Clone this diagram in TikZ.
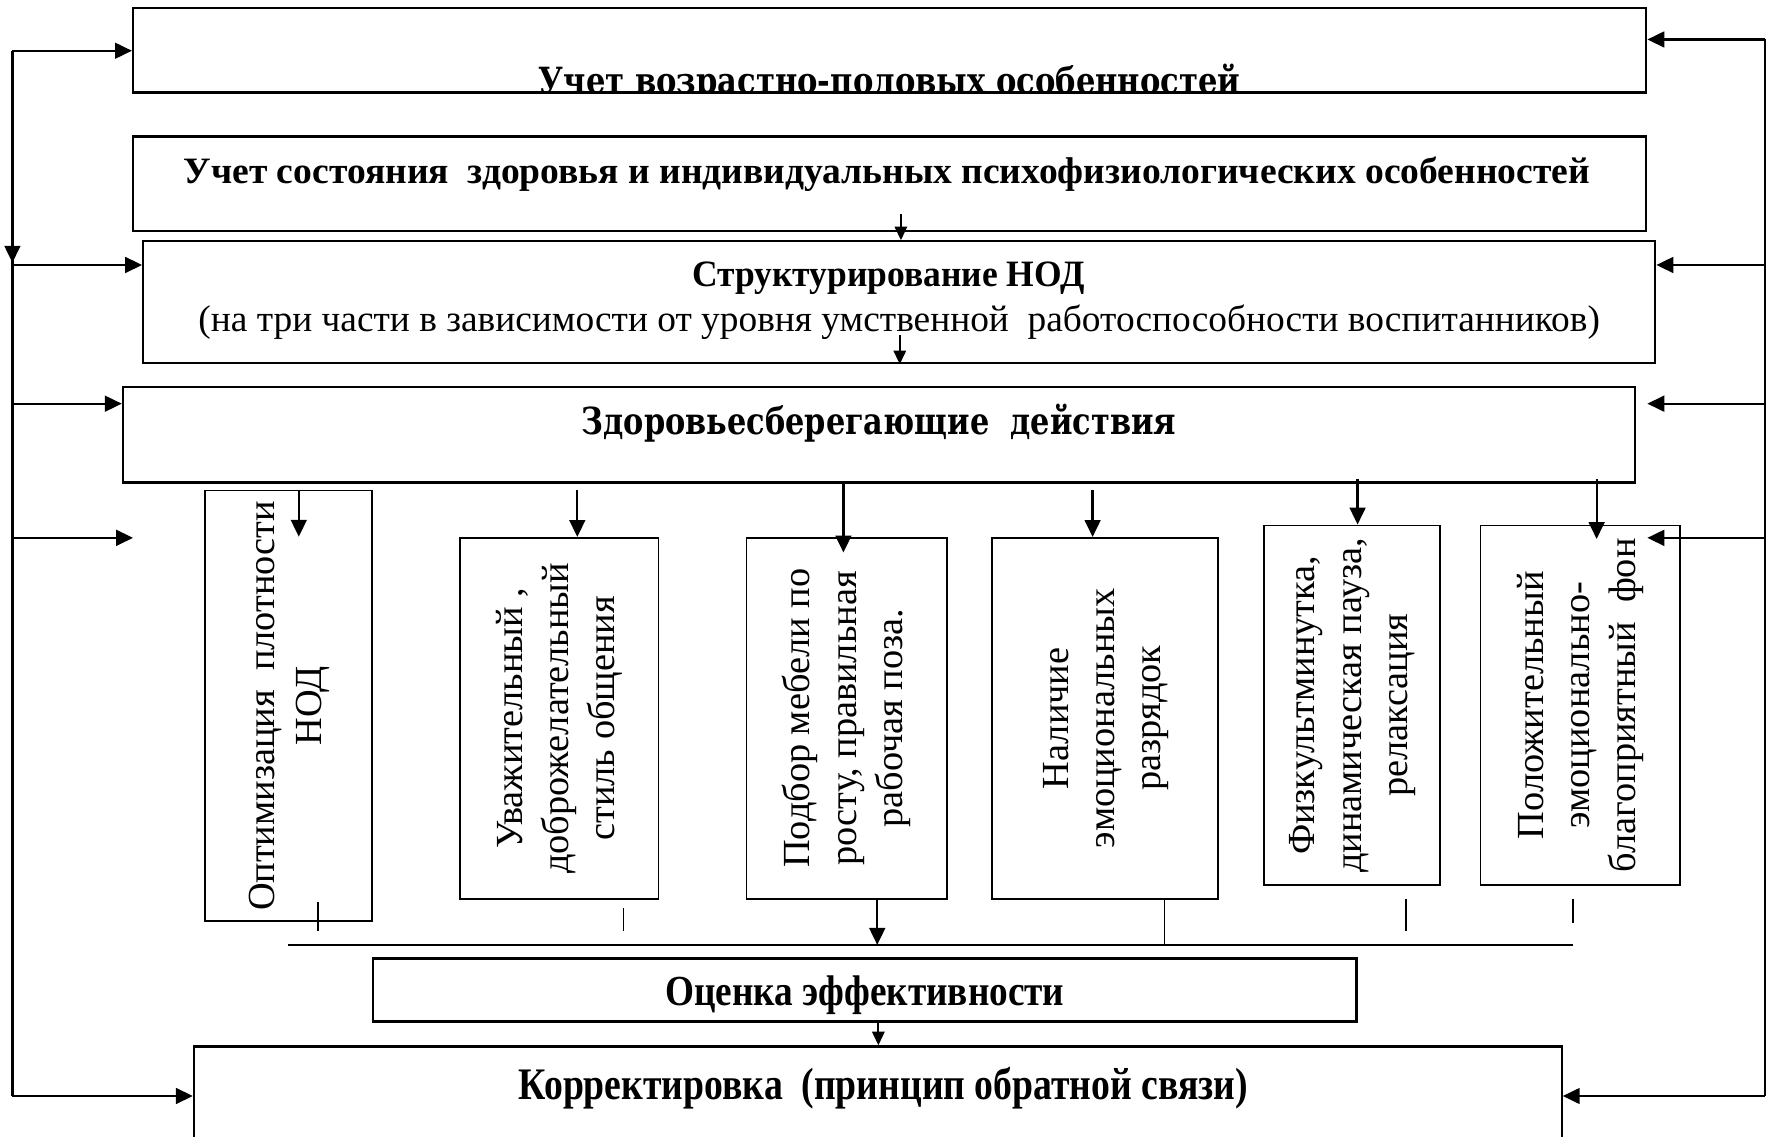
\documentclass[tikz,border=0pt]{standalone}
\usepackage{fontspec}
\setmainfont{Liberation Serif}
\newfontfamily\dvs{DejaVu Serif}
\usetikzlibrary{arrows.meta,calc}
\newcommand{\fitw}[2]{\resizebox{#1}{\height}{#2}}
\begin{document}
\begin{tikzpicture}[x=0.5pt,y=-0.5pt,
 line/.style={line width=1pt},
 arr/.style={line width=1pt,-{Triangle[length=7.5pt,width=7pt]}},
 sarr/.style={line width=0.8pt,-{Triangle[length=6pt,width=5.5pt]}},
 tick/.style={line width=0.6pt},
 bigbox/.style={draw,line width=1pt,inner sep=0pt},
 vbox/.style={draw,line width=0.8pt,inner sep=0pt,font=\fontsize{17}{20.5}\selectfont},
 hb/.style={anchor=base,inner sep=0pt,font=\fontsize{16.5}{20}\selectfont\bfseries},
 hr/.style={anchor=base,inner sep=0pt,font=\fontsize{16.5}{20}\selectfont}
]
\clip (0,0) rectangle (1568,1008);

% main boxes
\node[bigbox,minimum width=671pt,minimum height=37.5pt] (B1) at (789,44.5) {};
\begin{scope}
 \clip (B1.south west) rectangle (B1.north east);
 \node[hb,font=\dvs\bfseries\fontsize{16}{19}\selectfont] (T1) at (789,83) {\fitw{311pt}{Учет возрастно-половых особенностей}};
\end{scope}

\node[bigbox,minimum width=671pt,minimum height=42pt] (B2) at (789,163) {};
\node[hb] (T2) at (786.5,163) {\fitw{623.5pt}{Учет состояния\ \ здоровья и индивидуальных психофизиологических особенностей}};

\node[bigbox,minimum width=670.5pt,minimum height=54pt] (B3) at (797.5,268) {};
\node[hb] (T3a) at (788,254) {\fitw{174pt}{Структурирование НОД}};
\node[hr] (T3b) at (797.5,294) {\fitw{621.5pt}{(на три части в зависимости от уровня умственной\ \ работоспособности воспитанников)}};

\node[bigbox,minimum width=670.5pt,minimum height=42.5pt] (B4) at (779.5,385.5) {};
\node[hb,font=\dvs\bfseries\fontsize{16.5}{19}\selectfont] (T4) at (779.5,385) {\fitw{263.5pt}{Здоровьесберегающие\ \ действия}};

% vertical boxes
\node[vbox,minimum width=74pt,minimum height=191pt] (A) at (256,626) {\rotatebox{90}{\begin{tabular}{@{}c@{}}Оптимизация\ \ плотности\\НОД\end{tabular}}};
\node[vbox,minimum width=88pt,minimum height=160pt] (B) at (496,637) {\rotatebox{90}{\begin{tabular}{@{}c@{}}Уважительный ,\\доброжелательный\\стиль общения\end{tabular}}};
\node[vbox,minimum width=89pt,minimum height=160pt] (C) at (751,637) {\rotatebox{90}{\begin{tabular}{@{}c@{}}Подбор мебели по\\росту, правильная\\рабочая поза.\end{tabular}}};
\node[vbox,minimum width=100pt,minimum height=160pt] (D) at (980,637) {\rotatebox{90}{\begin{tabular}{@{}c@{}}Наличие\\эмоциональных\\разрядок\end{tabular}}};
\node[vbox,minimum width=78pt,minimum height=159.5pt] (E) at (1199,625.5) {\rotatebox{90}{\begin{tabular}{@{}c@{}}Физкультминутка,\\динамическая пауза,\\релаксация\end{tabular}}};
\node[vbox,minimum width=88.5pt,minimum height=159.5pt] (F) at (1401.5,625.5) {\rotatebox{90}{\begin{tabular}{@{}c@{}}Положительный\\эмоционально-\\благоприятный\ \ фон\end{tabular}}};

% bottom boxes
\node[bigbox,minimum width=436pt,minimum height=28pt] (O) at (767,878) {};
\node[hb,font=\bfseries\fontsize{19}{22}\selectfont] (TO) at (767,892) {\fitw{177pt}{Оценка эффективности}};
\node[bigbox,minimum width=606.5pt,minimum height=60pt] (K) at (778.5,988) {};
\node[hb,font=\bfseries\fontsize{20}{23}\selectfont] (TK) at (783.5,975) {\fitw{323.5pt}{Корректировка\ \ (принцип обратной связи)}};

% left feedback line
\coordinate (l1) at (11,45);
\coordinate (ld) at (11,233);
\coordinate (l3) at (11,235);
\coordinate (l4) at (11,358);
\coordinate (l5) at (11,477);
\coordinate (l6) at (11,972);
\coordinate (f5) at (118,477);
\draw[line] (l1) -- (l6);
\draw[arr] (l1) -- (ld);
\draw[arr] (l1) -- (l1 -| B1.west);
\draw[arr] (l3) -- (l3 -| B3.west);
\draw[arr] (l4) -- (l4 -| B4.west);
\draw[arr] (l5) -- (f5);
\draw[arr] (l6) -- (l6 -| K.west);

% right feedback line
\coordinate (r1) at (1565,35);
\coordinate (r3) at (1565,235);
\coordinate (r4) at (1565,358);
\coordinate (r5) at (1565,477);
\coordinate (r6) at (1565,972);
\draw[line] (r1) -- (r6);
\draw[arr] (r1) -- (r1 -| B1.east);
\draw[arr] (r3) -- (r3 -| B3.east);
\draw[arr] (r4) -- (r4 -| B1.east);
\draw[arr] (r5) -- (r5 -| B1.east);
\draw[arr] (r6) -- (r6 -| K.east);

% small arrows between main boxes
\coordinate (s1) at (799,190);
\draw[sarr] (s1) -- (s1 |- B3.north);
\coordinate (s2) at (798,297);
\draw[sarr] (s2) -- (s2 |- B3.south);
\coordinate (s3) at (779,0);
\draw[sarr] (s3 |- O.south) -- (s3 |- K.north);

% arrows to vertical boxes
\coordinate (dA) at (265,476);
\draw[arr] (dA |- A.north) -- (dA);
\coordinate (dB) at (512,435);
\draw[arr] (dB) -- (dB |- B.north);
\coordinate (dC) at (748,490);
\draw[arr] (dC |- B4.south) -- (dC);
\coordinate (dD) at (969,435);
\draw[arr] (dD) -- (dD |- D.north);
\coordinate (dE) at (1204,425);
\draw[arr] (dE) -- (dE |- E.north);
\coordinate (dF) at (1416,425);
\coordinate (dF2) at (1416,478);
\draw[arr] (dF) -- (dF2);

% bottom collector
\coordinate (hL) at (255,838);
\coordinate (hR) at (1395,838);
\draw[tick] (hL) -- (hR);
\draw[tick] (282,800) -- (282,826);
\draw[tick] (553,805) -- (553,826);
\draw[tick] (1247,797) -- (1247,826);
\draw[tick] (1395,797) -- (1395,819);
\coordinate (cC) at (778,838);
\draw[arr] (cC |- C.south) -- (cC);
\coordinate (cD) at (1033,838);
\draw[tick] (cD |- D.south) -- (cD);
\end{tikzpicture}
\end{document}
